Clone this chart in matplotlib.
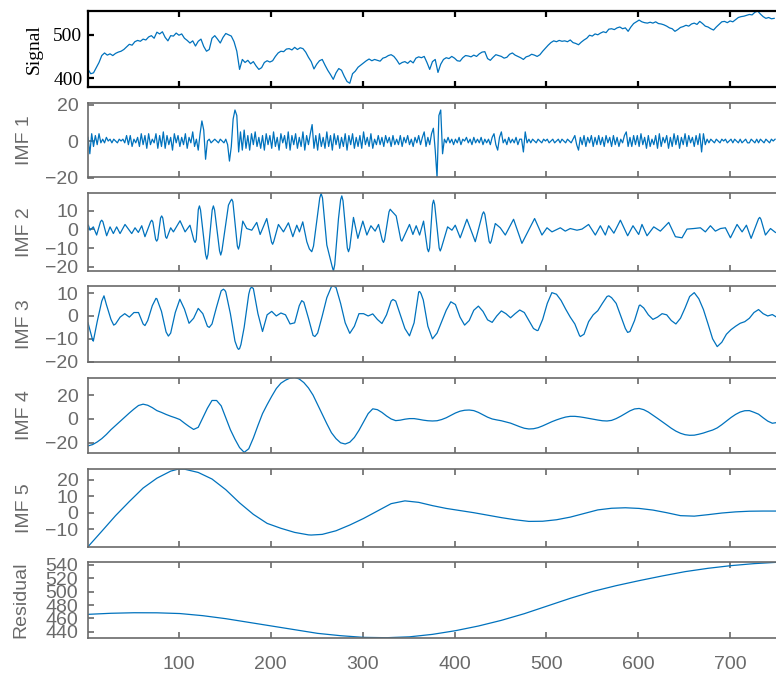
import numpy as np
import matplotlib.pyplot as plt

# original signal, one value every 3 samples starting at t = 1
signal = [420, 410, 412, 424, 436, 452, 458, 453, 456, 452,
          457, 460, 462, 466, 472, 478, 476, 484, 487, 485,
          490, 488, 495, 498, 492, 506, 502, 507, 494, 486,
          498, 497, 504, 499, 502, 492, 487, 481, 486, 474,
          485, 490, 473, 462, 466, 492, 498, 490, 481, 494,
          503, 500, 497, 484, 462, 420, 443, 436, 441, 433,
          438, 428, 420, 424, 436, 440, 437, 440, 450, 458,
          462, 461, 467, 468, 465, 471, 466, 470, 468, 460,
          448, 438, 421, 432, 440, 443, 430, 418, 408, 397,
          412, 422, 418, 404, 392, 388, 410, 416, 425, 430,
          435, 440, 444, 440, 443, 441, 439, 446, 448, 452,
          454, 450, 442, 432, 436, 438, 434, 440, 435, 446,
          449, 447, 450, 436, 420, 438, 443, 413, 432, 443,
          447, 445, 450, 446, 440, 439, 447, 452, 451, 449,
          453, 450, 456, 460, 461, 445, 441, 448, 454, 452,
          450, 446, 448, 455, 458, 453, 450, 447, 443, 449,
          451, 455, 453, 450, 454, 462, 469, 476, 482, 486,
          484, 487, 485, 486, 484, 488, 482, 480, 477, 483,
          488, 492, 499, 497, 502, 500, 504, 507, 505, 513,
          514, 512, 516, 518, 514, 516, 508, 518, 526, 530,
          534, 530, 528, 527, 529, 527, 530, 526, 525, 523,
          520, 516, 514, 508, 512, 517, 519, 522, 520, 525,
          527, 524, 531, 526, 520, 518, 514, 511, 518, 524,
          530, 531, 528, 532, 530, 535, 540, 542, 543, 545,
          547, 546, 552, 555, 548, 542, 538, 540, 537, 538]

# IMF 1, every 2 samples
imf1 = [2, -7, 4, -3, 3, -2, 4, -1, 1, -1, 2, 0, 1, -1, 1, 0, -1, 1, 0, 1,
        -1, 3, -2, 3, -3, 1, -1, 2, -3, 4, -2, 3, -4, 4, -2, 1, -1, 4, -4, 3,
        -3, 5, -4, 3, -2, 2, -5, 4, -1, 3, -3, 2, -2, 4, -4, 2, -1, 5, -3, 1,
        -5, 4, 11, 6, -10, 0, 1, -1, 0, 1, 0, -1, 1, 0, -1, 1, -2, -11, -3, 12,
        17, 14, -6, 5, -5, 6, -4, 3, -5, 4, -2, 5, -3, 2, -4, 3, -5, 4, -2, 3,
        -4, 5, -3, 2, -5, 4, -1, 3, -4, 5, -5, 3, -2, 4, -4, 2, -3, 5, -5, 3,
        -2, 4, 9, -4, 3, -5, 4, -3, 2, -4, 5, -3, 3, -5, 4, -2, 3, -4, 2, -3,
        4, -5, 3, -2, 4, -4, 2, -3, 3, -4, 5, -2, 2, -3, 4, -4, 1, -2, 3, -2,
        2, -3, 3, -1, 2, -3, 3, -2, 1, -2, 3, -3, 2, -1, 3, -2, 1, -3, 2, -1,
        3, -2, 2, 5, -3, 2, -2, 4, 7, -5, -20, 14, 17, -7, 1, -1, 2, -1, 1, -2,
        1, -1, 2, -2, 1, 0, 2, -1, 1, -2, 2, -1, 1, -1, 2, -2, 1, -1, 1, -2,
        2, 4, -2, -5, 2, 5, -1, 1, -2, 2, -1, 1, -1, 2, -2, 1, 1, -6, 5, -1,
        1, -1, 1, 0, -1, 1, 0, -1, 1, 0, 1, -1, 0, 1, -1, 0, 1, -1, 1, 0,
        -1, 1, 0, -1, 1, 3, -2, -5, 2, -2, 3, -3, 2, -1, 3, -3, 2, -2, 3, -2,
        2, -3, 3, -1, 2, -3, 3, -2, 2, -3, 1, -1, 3, 5, -3, 2, -3, 3, -2, 3,
        -3, 4, -2, 2, -4, 3, -3, 1, -2, 3, -4, 4, -3, 2, -1, 3, -4, 2, -3, 4,
        -2, 3, -4, 2, -2, 4, -3, 3, -1, 2, -3, 3, -2, 4, -6, 4, -2, 1, -1, 1,
        0, -1, 1, 0, -1, 1, 0, 1, -1, 0, 1, -1, 1, 0, -1, 1, -1, 0, 1, -1,
        -1, 1, 0, -1, 1, -1, 1, 0, -1, 1, 0, -1, 1, 0, 1]

# IMF 2, read at its turning points and around the larger peaks
imf2_t = [1.4, 3.2, 6.8, 10.4, 14.6, 15.9, 17.2, 21.3, 25, 28.6,
          32.2, 35.9, 41.3, 48.6, 52.2, 55.8, 59.5, 63, 69.2, 70.4,
          71.6, 74.6, 75.8, 77, 80, 81.2, 82.4, 85.5, 86.7, 91,
          94, 101.2, 106.7, 112, 116.4, 117.6, 118.8, 121.1, 122.3, 123.5,
          129, 130.3, 131.6, 136.2, 137.5, 138.8, 144.2, 145.5, 146.8, 153.9,
          156.3, 157.5, 158.7, 163.6, 164.8, 166, 169.5, 173.8, 179.3, 184.7,
          188.4, 195.6, 200.8, 202, 203.2, 208.3, 213.8, 219.2, 224, 228.3,
          231.2, 234.8, 239.2, 242, 244.6, 246.5, 253.3, 254.8, 256.3, 261,
          266.8, 268.2, 269.6, 273.7, 276, 277.3, 278.6, 283.3, 284.6, 285.9,
          290, 294.8, 300.2, 304.6, 309, 313.6, 317.3, 321.5, 322.7, 323.9,
          328.7, 330, 331.5, 336.5, 341.5, 342.7, 343.9, 351, 354.7, 358.3,
          362, 366.3, 370.5, 371.7, 372.9, 376, 377.2, 378.4, 383.3, 384.5,
          385.7, 392.5, 397.2, 400.8, 406.2, 413.5, 422.6, 430.4, 431.7, 433,
          437.7, 438.9, 440.1, 444.4, 449.8, 455.3, 464.3, 473.4, 487.2, 495.2,
          500.7, 506.1, 515.2, 520.6, 526, 533.3, 538.8, 546, 553.3, 558.8,
          564.2, 567.8, 573.5, 580.6, 588.5, 594.3, 600.5, 604.1, 609.6, 616.9,
          624.1, 633.2, 640.5, 647.7, 653.1, 660.4, 667.7, 673.1, 678.6, 684,
          689.5, 694.9, 700.4, 707.6, 713.1, 717.8, 722.9, 731, 732.3, 733.6,
          738.5, 744, 749.4]
imf2 = [2.3, -0.4, 1.4, -3, 4.2, 5, 4.2, -3.4, 1.4, -2.2,
        1.4, -2.2, 2.7, -2.2, 0.9, -1.6, 2, -3.9, 4.2, 5,
        4, -5.3, -6.3, -5.2, 6.2, 7.3, 6.2, -4, -4.8, 0.9,
        -1.3, 4.7, -1.3, 2.3, -6, -7, -5.5, 10.8, 12.7, 10.5,
        -13.5, -16, -13.5, 10.5, 12.7, 10.5, -11.5, -13.8, -11.5, 13.1,
        15.5, 16.3, 15, -9, -10.6, -8.5, 4.5, 0.5, -0.4, 3.8,
        -2.7, 5.9, -6.8, -8, -6.5, 2.7, -1.3, 3.6, -3.9, 2.3,
        -1.3, 4.1, -6.6, -10.5, -12, -9, 17, 19.4, 17, -8.4,
        -20, -22.4, -19, 5.9, 16, 18.1, 15.5, -10, -12, -10,
        6.5, -4.8, 4.5, -3, 2, -0.9, 2.7, -6, -7, -5.5,
        9.5, 10.9, 10, 7.3, -5.5, -6.3, -5, 2.7, -2.7, 2,
        -3, 4.5, -10.5, -12, -10, 13.5, 15.8, 13.5, -10, -11.6,
        -10, 1.4, -0.4, 2.3, -4.5, 5.5, -6.6, 8.3, 9.5, 8.2,
        -6.5, -7.5, -6.2, 3.2, 0.9, -3, 5.5, -7.5, 5.9, -3,
        0.9, -1.3, 0.9, -0.9, 0.5, -0.4, 0.2, 2.7, -3, 2,
        -3, 2, -2, 5, -3.4, 2, -2.7, 2.7, -3.4, 1.4,
        -0.9, 3.8, -3.9, -4.5, 0.2, 0.5, 0.9, -1.3, 2, -0.9,
        0.5, 0.9, -4.5, 2.7, -1.3, 2.3, -4.8, 5.8, 6.5, 5.5,
        -3, 0.5, -1.6]

# IMF 3, every 5 samples, plus readings at its sharper turning points
imf3 = [-3, -10.5, -2.5, 6.5, 5, -1.5, -3.5, -0.5, 1, -0.5,
        1.5, 1.5, -3.5, -2, 4.5, 7.5, 2, -7, -7.5, 1.5,
        7.3, 3, -3.2, -1, 3.3, 1, -4.5, -3.5, 4, 11,
        10.5, 1, -11, -14.3, -5, 9.5, 12, 1, -6.8, 0.5,
        2, 0, 1.3, 0.5, -3.5, -3, 4.5, 6, -1, -8.5,
        -7.5, 0, 8, 12.8, 12.5, 5.5, -3, -7.6, -4.5, 1,
        1, 0, 0.9, -1.5, -3.3, 0.5, 6.5, 6.5, 0.5, -5.5,
        -8.7, -3, 10.5, 7, -4.5, -10, -7.5, -2.5, 2.5, 6.2,
        5, -0.5, -4, -2, 2.5, 4.3, 2, -1.7, -2.8, 0,
        2.2, 1, -0.8, 1, 2.6, 1.5, -2, -5.5, -6.3, -1.5,
        5.5, 10.2, 9.5, 6.8, 3, -0.5, -3.5, -8.5, -8, -2.5,
        0.5, 2.3, 5.5, 8.5, 8, 5.5, 0, -5.5, -6.8, -2,
        4.5, 3.5, 0.5, -1.5, -0.5, 1, 0.5, -2, -3.5, -1,
        3.5, 8.5, 10.2, 7.5, 2.8, -3.5, -10, -13.4, -11.5, -8,
        -6, -4.5, -3.2, -2.5, -1, 1.5, 2.8, 1, 0, 0.6,
        -0.6]
imf3_peak_t = [6.8, 18.4, 29, 63, 75, 88.5, 133, 148.4, 150, 163.5,
               164.8, 167.5, 177.5, 179, 233.7, 248, 268, 333, 362, 363.5,
               490, 537, 568, 588.5, 602]
imf3_peak = [-11, 8.8, -4, -4.2, 7.7, -8.8, -5, 11.7, 11.2, -13.8,
             -14.6, -12.5, 11.8, 12.6, 6.7, -9, 13.1, 7.2, 10.7, 9.8,
             -6.4, -9, 8.8, -7.2, 4.8]

# IMF 4, every 5 samples
imf4 = [-22.6, -21.5, -19.3, -16.5, -13, -9, -5.5, -2, 1.5, 5,
        8.3, 11.3, 12.4, 11.5, 9.5, 7, 5.5, 3.8, 2.3, 1,
        -0.5, -3.5, -6.3, -8.8, -7, 1, 9, 15.5, 15.5, 11,
        1, -9, -17, -24, -28, -25, -16, -5.5, 4.5, 12,
        19, 25.5, 30, 32.5, 34.3, 34.9, 33.5, 30.5, 26, 20,
        12, 4, -4, -11.5, -16.5, -20, -21, -19.5, -15.5, -9.5,
        -2.5, 4.5, 8.5, 7.8, 5.5, 2.5, 0, -1.4, -1, -0.2,
        0.3, 0.3, -0.3, -1, -1.5, -1.7, -1.5, -0.5, 1, 3,
        5, 6.5, 7.3, 7.5, 7, 5.5, 3.5, 1.5, 0, -0.8,
        -1.5, -2.5, -3.5, -5, -6.5, -7.8, -8.4, -8.2, -7.3, -5.8,
        -4, -2.3, -0.8, 0.5, 1.6, 2.2, 2.2, 1.8, 1.2, 0.5,
        -0.2, -0.9, -1.5, -1.7, -1.2, 0.3, 2.3, 4.5, 6.8, 8.4,
        8.8, 7.8, 5.8, 3.2, 0.5, -2.2, -5, -7.8, -10.2, -12,
        -13.2, -13.7, -13.6, -12.8, -11.8, -10.5, -9.3, -7.5, -4.8, -1.8,
        1.2, 3.8, 5.8, 6.9, 7, 5.6, 4, 1, -1.8, -3.6,
        -3]

# IMF 5, every 15 samples
imf5 = [-20.7, -11.3, -1.8, 6.8, 15, 21, 25.3, 26.5, 24.5, 20.5,
        14, 6, -1, -6.5, -9.5, -12, -13.5, -13.2, -11, -7.5,
        -3.5, 1, 5.5, 7.2, 6.3, 4.3, 2.6, 1.3, 0, -1.5,
        -3, -4.3, -5.3, -5.2, -4.3, -2.7, -0.5, 1.7, 2.7, 3,
        2.6, 1.6, 0, -1.8, -2.1, -1.2, -0.2, 0.5, 0.9, 1,
        1]
imf5_peak_t = [99, 244]
imf5_peak = [26.5, -13.6]

# residual trend, every 25 samples
residual = [466, 467.6, 468.4, 468.3, 467.2, 464, 459.5, 454, 448.5, 443,
            437.5, 434, 431.5, 431, 432.3, 436, 441.5, 448.5, 457, 467,
            478.5, 490, 500.5, 509, 516.5, 523.5, 530, 535, 539, 542,
            544]

names = ['Signal', 'IMF 1', 'IMF 2', 'IMF 3', 'IMF 4', 'IMF 5', 'Residual']
ylims = [(380, 555), (-20, 21), (-22.4, 19.5), (-20, 13.1),
         (-28.8, 34.6), (-20.7, 26.6), (431, 544)]
yticks = [[400, 500], [-20, 0, 20], [-20, -10, 0, 10], [-20, -10, 0, 10],
          [-20, 0, 20], [-10, 0, 10, 20], [440, 460, 480, 500, 520, 540]]


def merged(step, vals, extra_t, extra_v):
    # grid readings plus extra readings at turning points, in time order
    t = np.concatenate([1 + step * np.arange(len(vals)), extra_t])
    v = np.concatenate([vals, extra_v])
    order = np.argsort(t)
    return t[order], v[order]


series = [
    (1 + 3 * np.arange(len(signal)), signal),
    (1 + 2 * np.arange(len(imf1)), imf1),
    (np.array(imf2_t), imf2),
    merged(5, imf3, imf3_peak_t, imf3_peak),
    (1 + 5 * np.arange(len(imf4)), imf4),
    merged(15, imf5, imf5_peak_t, imf5_peak),
    (1 + 25 * np.arange(len(residual)), residual),
]

W, H = 776, 673
left = 88
tops = [11, 102.7, 193.3, 286, 377.7, 469, 562.3]
bots = [86.7, 177.5, 271, 361.7, 453.3, 546.7, 637.7]
label_x = [-0.0785, -0.0916, -0.0916, -0.0916, -0.0916, -0.0916, -0.097]
gray = '#6a6a6a'
blue = '#0072BD'

fig = plt.figure(figsize=(W / 100, H / 100), dpi=100)

for i in range(7):
    ax = fig.add_axes([left / W, 1 - bots[i] / H, (W - left) / W, (bots[i] - tops[i]) / H])
    x, y = series[i]
    ax.plot(x, y, color=blue, lw=0.9)
    ax.set_xlim(1, 750)
    ax.set_ylim(*ylims[i])
    ax.set_yticks(yticks[i])
    ax.set_xticks(range(100, 800, 100))
    ax.spines['right'].set_visible(False)

    if i == 0:
        col, fam, sw, pad = 'black', 'Liberation Serif', 1.6, 4
    else:
        col, fam, sw, pad = gray, 'Liberation Sans', 1.2, 7
    for s in ['left', 'top', 'bottom']:
        ax.spines[s].set_color(col)
        ax.spines[s].set_linewidth(sw)
    ax.tick_params(direction='in', length=4, width=sw, color=col,
                   top=True, right=False, labelcolor=col, labelsize=14)
    ax.tick_params(axis='y', pad=pad)
    ax.tick_params(axis='x', pad=13)
    for lab in ax.get_yticklabels() + ax.get_xticklabels():
        lab.set_family(fam)
    if i < 6:
        ax.set_xticklabels([])

    ax.set_ylabel(names[i], fontsize=14, color=col, family=fam, va='center')
    ax.yaxis.set_label_coords(label_x[i], 0.5)

fig.savefig('out.png', dpi=100)
